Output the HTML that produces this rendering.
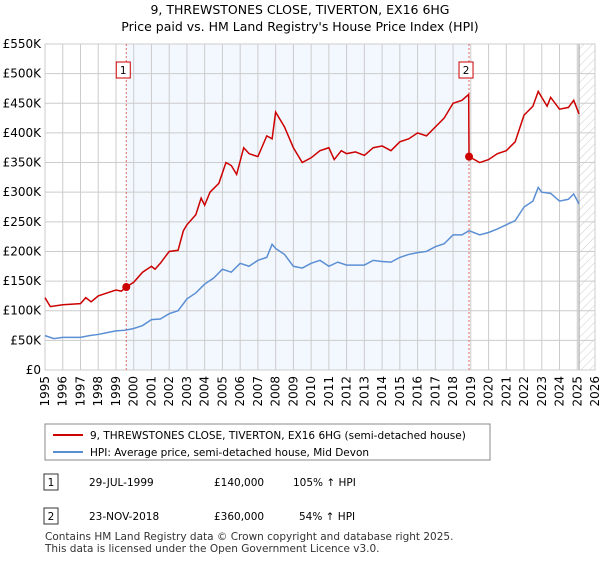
<!DOCTYPE html>
<html><head><meta charset="utf-8"><style>
body{margin:0;background:#fff;font-family:"Liberation Sans","DejaVu Sans",sans-serif;}
svg text{font-family:"DejaVu Sans","Liberation Sans",sans-serif;}
</style></head><body>
<svg id="chart" width="600" height="560" xmlns="http://www.w3.org/2000/svg">
<defs><pattern id="hatch" width="6" height="6" patternUnits="userSpaceOnUse" patternTransform="rotate(45)"><line x1="0" y1="0" x2="0" y2="6" stroke="#ccc" stroke-width="1"/></pattern></defs>
<text x="300" y="14" text-anchor="middle" font-size="12.5">9, THREWSTONES CLOSE, TIVERTON, EX16 6HG</text>
<text x="300" y="31" text-anchor="middle" font-size="12.5">Price paid vs. HM Land Registry's House Price Index (HPI)</text>
<g id="plot"></g>
<g>
<rect x="45" y="424" width="445" height="36" fill="#fff" stroke="#888"/>
<line x1="53" y1="435" x2="83" y2="435" stroke="#cc0000" stroke-width="2"/>
<text x="90" y="439" font-size="10.5">9, THREWSTONES CLOSE, TIVERTON, EX16 6HG (semi-detached house)</text>
<line x1="53" y1="452" x2="83" y2="452" stroke="#5b8fd4" stroke-width="2"/>
<text x="90" y="456" font-size="10.5">HPI: Average price, semi-detached house, Mid Devon</text>
</g>
<g font-size="10.5">
<rect x="44" y="474" width="14" height="16" fill="#fff" stroke="#333"/><text x="51" y="486" text-anchor="middle">1</text>
<text x="89" y="486">29-JUL-1999</text><text x="214" y="486">£140,000</text><text x="293" y="486">105% ↑ HPI</text>
<rect x="44" y="508" width="14" height="16" fill="#fff" stroke="#333"/><text x="51" y="520" text-anchor="middle">2</text>
<text x="89" y="520">23-NOV-2018</text><text x="214" y="520">£360,000</text><text x="299" y="520">54% ↑ HPI</text>
</g>
<text x="45" y="540" font-size="10.5" fill="#333">Contains HM Land Registry data © Crown copyright and database right 2025.</text>
<text x="45" y="552" font-size="10.5" fill="#333">This data is licensed under the Open Government Licence v3.0.</text>
</svg>
<script>
const yTicks=[0,50000,100000,150000,200000,250000,300000,350000,400000,450000,500000,550000];
const yTickLabels=["£0","£50K","£100K","£150K","£200K","£250K","£300K","£350K","£400K","£450K","£500K","£550K"];
const years=[1995,1996,1997,1998,1999,2000,2001,2002,2003,2004,2005,2006,2007,2008,2009,2010,2011,2012,2013,2014,2015,2016,2017,2018,2019,2020,2021,2022,2023,2024,2025,2026];
const hpiT=[1995,1995.5,1996,1997,1997.5,1998,1998.5,1999,1999.5,2000,2000.5,2001,2001.5,2002,2002.5,2003,2003.5,2004,2004.5,2005,2005.5,2006,2006.5,2007,2007.5,2007.8,2008,2008.5,2009,2009.5,2010,2010.5,2011,2011.5,2012,2013,2013.5,2014,2014.5,2015,2015.5,2016,2016.5,2017,2017.5,2018,2018.5,2018.9,2019.5,2020,2020.5,2021,2021.5,2022,2022.5,2022.8,2023,2023.5,2024,2024.5,2024.8,2025.1];
const hpiV=[58,53,55,55,58,60,63,66,67,70,75,85,86,95,100,120,130,145,155,170,165,180,175,185,190,212,205,195,175,172,180,185,175,182,177,177,185,183,182,190,195,198,200,208,213,228,228,235,228,232,238,245,252,275,285,308,300,298,285,288,297,280];
const priceT=[1995,1995.3,1996,1997,1997.3,1997.6,1998,1998.5,1999,1999.3,1999.58,2000,2000.5,2001,2001.2,2001.5,2002,2002.5,2002.8,2003,2003.5,2003.8,2004,2004.3,2004.8,2005.2,2005.5,2005.8,2006.2,2006.5,2007,2007.5,2007.8,2008,2008.5,2009,2009.5,2010,2010.5,2011,2011.3,2011.7,2012,2012.5,2013,2013.5,2014,2014.5,2015,2015.5,2016,2016.5,2017,2017.5,2018,2018.5,2018.88,2018.9,2019.5,2020,2020.5,2021,2021.5,2022,2022.5,2022.8,2023,2023.3,2023.5,2024,2024.5,2024.8,2025.1];
const priceV=[122,107,110,112,122,115,125,130,135,133,140,148,165,175,170,180,200,202,235,245,262,290,278,300,315,350,345,330,375,365,360,395,390,435,410,375,350,358,370,375,355,370,365,368,362,375,378,370,385,390,400,395,410,425,450,455,465,360,350,355,365,370,385,430,445,470,460,445,460,440,443,455,432];
const saleT=[1999.58,2018.9];
const saleV=[140000,360000];
const saleLabels=["1","2"];
const X0=45,X1=595,Y0=370,Y1=44;
const xs=t=>X0+(t-1995)/31*(X1-X0);
const ys=v=>Y0-v/550000*(Y0-Y1);
const NS="http://www.w3.org/2000/svg";
const g=document.getElementById('plot');
function mk(tag,attrs){const e=document.createElementNS(NS,tag);for(const k in attrs)e.setAttribute(k,attrs[k]);g.appendChild(e);return e;}
let r=mk('rect',{x:X0,y:Y1,width:X1-X0,height:Y0-Y1,fill:'#fff'});


r=mk('rect',{x:xs(saleT[0]),y:Y1,width:xs(saleT[1])-xs(saleT[0]),height:Y0-Y1,fill:'#eef3fd',opacity:0.7});


r=mk('rect',{x:xs(2025.1),y:Y1,width:X1-xs(2025.1),height:Y0-Y1,fill:'url(#hatch)'});


mk('line',{x1:xs(2025.1),y1:Y1,x2:xs(2025.1),y2:Y0,stroke:'#999','stroke-width':1});
yTicks.forEach((v,i)=>{
 const l=mk('line',{x1:X0,x2:X1,y1:ys(v),y2:ys(v),stroke:'#ccc'});
 
 
 const t=mk('text',{x:X0-4,y:ys(v)+4,'text-anchor':'end','font-size':'12'});
 t.textContent=yTickLabels[i];
 
 
});
years.forEach(y=>{
 const l=mk('line',{x1:xs(y),x2:xs(y),y1:Y1,y2:Y0,stroke:'#ccc'});
 
 
 const t=mk('text',{transform:`translate(${xs(y)+4},${Y0+6}) rotate(-90)`,'text-anchor':'end','font-size':'12'});
 t.textContent=y;
 
 
});
r=mk('rect',{x:X0,y:Y1,width:X1-X0,height:Y0-Y1,fill:'none',stroke:'#ccc'});
saleT.forEach(t=>{mk('line',{x1:xs(t),x2:xs(t),y1:Y1,y2:Y0,stroke:'#e06666','stroke-dasharray':'2,2'});});
let p=mk('polyline',{points:hpiT.map((t,i)=>xs(t)+','+ys(hpiV[i]*1000)).join(' '),fill:'none',stroke:'#5b8fd4','stroke-width':1.5});


p=mk('polyline',{points:priceT.map((t,i)=>xs(t)+','+ys(priceV[i]*1000)).join(' '),fill:'none',stroke:'#cc0000','stroke-width':1.5});


saleT.forEach((t,i)=>{
 const c=mk('circle',{cx:xs(t),cy:ys(saleV[i]),r:4,fill:'#cc0000'});
 
 
 const b=mk('rect',{x:xs(t)-10,y:62,width:14,height:16,fill:'#fff',stroke:'#cc0000'});
 
 
 const tx=mk('text',{x:xs(t)-3,y:74,'text-anchor':'middle','font-size':'10.5'});
 tx.textContent=saleLabels[i];
 
 
});
</script>
</body></html>
